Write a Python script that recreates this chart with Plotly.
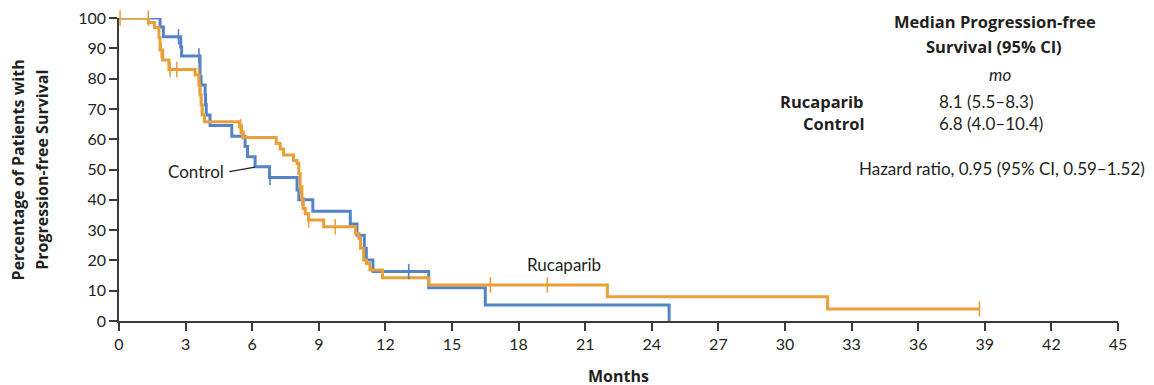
import plotly.graph_objects as go

# ---- Data ----
control_t = [0, 1.85, 2.0, 2.78, 2.82, 3.65, 3.7, 3.88, 3.9, 3.93, 4.1, 5.08, 5.68, 5.79, 6.13,
             6.78, 8.02, 8.1, 8.73, 10.42, 10.72, 11.05, 11.14, 11.44, 13.95, 16.5, 24.78]
control_s = [100, 97, 93.8, 90.5, 87.5, 80.6, 77.9, 74.7, 71.4, 68, 64.5, 61, 57.6, 54.2, 50.9,
             47.4, 43.2, 40, 36.2, 32, 28.3, 24, 20.1, 16.3, 11, 5.3, 0]
control_cens_t = [2.68, 3.6, 6.8, 13.05]
control_cens_s = [93.8, 87.5, 47.4, 16.3]

ruca_t = [0, 1.32, 1.6, 1.8, 1.85, 1.97, 2.25, 3.43, 3.6, 3.65, 3.7, 3.75, 3.85, 5.42, 5.5, 5.6,
          7.08, 7.26, 7.41, 7.86, 8.02, 8.1, 8.16, 8.24, 8.3, 8.39, 8.54, 9.22, 10.65, 10.8,
          10.88, 11.02, 11.14, 11.3, 11.87, 13.95, 22.0, 31.92, 38.76]
ruca_s = [100, 98.5, 96.9, 93.5, 89.4, 86.1, 83, 81.2, 77.8, 74.6, 71.3, 68, 65.8, 64.1, 62.4, 60.6,
          58.6, 56.8, 54.8, 53, 52, 48.7, 44.3, 40.4, 37.1, 35.4, 33.3, 31.1, 28.9, 27.3,
          24, 20.1, 19, 16.8, 14.3, 11.9, 8.0, 4.0, 4.0]
ruca_cens_t = [0.05, 1.32, 1.9, 2.3, 2.6, 3.58, 3.62, 3.68, 3.72, 5.48, 5.55, 8.16, 8.24, 8.54,
               9.74, 16.73, 19.29, 38.76]
ruca_cens_s = [100, 100, 89.4, 83, 83, 81.2, 77.8, 74.6, 71.3, 64.1, 62.4, 44.3, 40.4, 33.3,
               31.1, 11.9, 11.9, 4.0]

x_ticks = list(range(0, 46, 3))
y_ticks = list(range(0, 101, 10))

BLUE = "#5584c6"
ORANGE = "#e9a03b"
TXT = "#231f20"
AX = "#3a3a3a"
FONT = "Lato"
BFONT = "Open Sans"

fig = go.Figure()
fig.add_trace(go.Scatter(x=control_t, y=control_s, mode="lines", line=dict(color=BLUE, width=3, shape="hv"),
                         cliponaxis=False, hoverinfo="skip"))
fig.add_trace(go.Scatter(x=ruca_t, y=ruca_s, mode="lines", line=dict(color=ORANGE, width=3, shape="hv"),
                         cliponaxis=False, hoverinfo="skip"))
fig.add_trace(go.Scatter(x=control_cens_t, y=control_cens_s, mode="markers",
                         marker=dict(symbol="line-ns-open", size=11, color=BLUE, line=dict(color=BLUE, width=1.6)),
                         cliponaxis=False, hoverinfo="skip"))
fig.add_trace(go.Scatter(x=ruca_cens_t, y=ruca_cens_s, mode="markers",
                         marker=dict(symbol="line-ns-open", size=11, color=ORANGE, line=dict(color=ORANGE, width=1.6)),
                         cliponaxis=False, hoverinfo="skip"))

# Control label leader line
fig.add_shape(type="line", x0=4.97, y0=49.3, x1=6.13, y1=50.8, xref="x", yref="y",
              line=dict(color="#222", width=1.2))

ann = []
def A(text, x, y, xref="paper", yref="paper", xanchor="center", size=17, bold=False, italic=False, angle=0):
    t = text
    fam = FONT
    if bold:
        t = "<b>" + t + "</b>"
        fam = BFONT
    if italic:
        t = "<i>" + t + "</i>"
    ann.append(dict(text=t, x=x, y=y, xref=xref, yref=yref, xanchor=xanchor, yanchor="middle",
                    showarrow=False, textangle=angle, font=dict(family=fam, size=size, color=TXT)))

A("Control", 3.49, 49.3, xref="x", yref="y")
A("Rucaparib", 20.04, 18.8, xref="x", yref="y")

A("Median Progression-free", 0.877, 0.988, bold=True, size=16.5)
A("Survival (95% CI)", 0.876, 0.905, bold=True, size=16.5)
A("mo", 0.882, 0.812, italic=True)
A("Rucaparib", 0.748, 0.724, xanchor="right", bold=True, size=16.5)
A("8.1 (5.5–8.3)", 0.8185, 0.724, xanchor="left")
A("Control", 0.748, 0.652, xanchor="right", bold=True, size=16.5)
A("6.8 (4.0–10.4)", 0.8185, 0.652, xanchor="left")
A("Hazard ratio, 0.95 (95% CI, 0.59–1.52)", 1.0287, 0.504, xanchor="right")

A("Months", 0.4995, -0.1815, bold=True, size=16)
A("Percentage of Patients with", -0.1008, 0.498, bold=True, angle=-90, size=16)
A("Progression-free Survival", -0.0774, 0.498, bold=True, angle=-90, size=16)

# page body has an 8px margin, so the plot area is shifted by 8px: compensate in margins
fig.update_layout(
    width=1154, height=385,
    margin=dict(l=111, r=44, t=10, b=72, autoexpand=False),
    paper_bgcolor="white", plot_bgcolor="white",
    showlegend=False,
    annotations=ann,
    font=dict(family=FONT, size=16, color=TXT),
)
fig.update_xaxes(range=[0, 45], tickmode="array", tickvals=x_ticks, ticktext=[str(v) for v in x_ticks],
                 showgrid=False, zeroline=False, showline=True, linecolor=AX, linewidth=1.5,
                 ticks="outside", ticklen=8, tickwidth=1.5, tickcolor=AX, ticklabeloverflow="allow",
                 automargin=False, tickfont=dict(family=FONT, size=16, color=TXT))
fig.update_yaxes(range=[0, 100], tickmode="array", tickvals=y_ticks, ticktext=[str(v) for v in y_ticks],
                 showgrid=False, zeroline=False, showline=True, linecolor=AX, linewidth=1.5,
                 ticks="outside", ticklen=8, tickwidth=1.5, tickcolor=AX, ticklabeloverflow="allow",
                 automargin=False, tickfont=dict(family=FONT, size=16, color=TXT))

fig.write_html("out.html")
